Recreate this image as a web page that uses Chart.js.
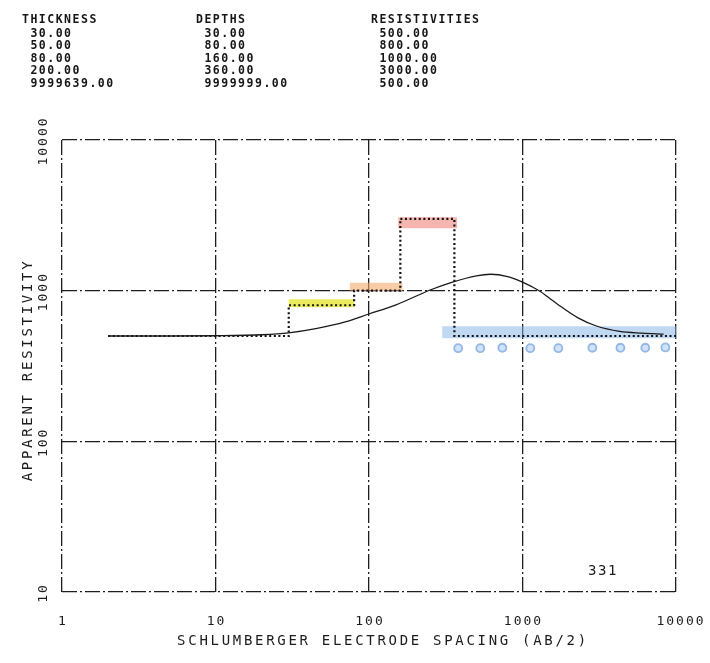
<!DOCTYPE html>
<html><head><meta charset="utf-8">
<script src="https://cdn.jsdelivr.net/npm/chart.js@4.4.1/dist/chart.umd.min.js"></script>
<style>
html,body{margin:0;padding:0;background:#fff;}
#wrap{position:relative;width:710px;height:663px;overflow:hidden;}
canvas{position:absolute;left:0;top:0;}
.hdr{position:absolute;font-family:"DejaVu Sans Mono",monospace;font-weight:bold;font-size:11.5px;letter-spacing:1.5px;color:#161616;white-space:pre;line-height:13px;height:13px;}
</style></head><body>
<div id="wrap"><canvas id="c" width="710" height="663"></canvas></div>
<script>
// ---- layer table (header) ----
const thickness = [30, 50, 80, 200, 9999639];
const depths = [30, 80, 160, 360, 9999999];
const resistivities = [500, 800, 1000, 3000, 500];

// ---- axes ----
const xTicks = [1, 10, 100, 1000, 10000];
const yTicks = [10, 100, 1000, 10000];
const modelStart = 2;
const modelEnd = 10000;

// ---- computed apparent resistivity curve ----
const curveX   = [2, 5, 10, 20, 30, 45, 70, 100, 150, 250, 350, 500, 620, 800, 1000, 1150, 1300, 1500, 1700, 2300, 3000, 4300, 6000, 8300];
const curveRho = [500, 500, 502, 510, 525, 560, 620, 700, 805, 1010, 1140, 1255, 1285, 1240, 1140, 1063, 990, 890, 810, 660, 585, 537, 523, 515];

// ---- hand-drawn highlighter marks ----
const hlStart = [30, 75, 155, 300];
const hlEnd   = [80, 165, 375, 10000];
const hlRho   = [825, 1060, 2820, 530];
const hlColor = ['rgba(228,228,40,0.75)', 'rgba(245,170,110,0.6)', 'rgba(238,120,110,0.55)', 'rgba(130,178,230,0.5)'];

// ---- hand-drawn blue circles ----
const circleX   = [381, 531, 739, 1124, 1711, 2852, 4345, 6310, 8530];
const circleRho = [415, 415, 418, 415, 415, 418, 418, 418, 420];

const plotLabel = '331';

// header text
const wrap = document.getElementById('wrap');
const cols = [
  {title: 'THICKNESS', x: 22, vals: thickness},
  {title: 'DEPTHS', x: 196, vals: depths},
  {title: 'RESISTIVITIES', x: 371, vals: resistivities}
];
const rowY = [19, 33, 45.5, 58, 70.5, 83];
cols.forEach(c => {
  const lines = [c.title].concat(c.vals.map(v => ' ' + v.toFixed(2)));
  lines.forEach((t, i) => {
    const d = document.createElement('div');
    d.className = 'hdr';
    d.textContent = t;
    d.style.left = c.x + 'px';
    d.style.top = (rowY[i] - 6.5) + 'px';
    wrap.appendChild(d);
  });
});

// step model from depths/resistivities
const stepData = [{x: modelStart, y: resistivities[0]}];
depths.slice(0, 4).forEach((d, i) => {
  stepData.push({x: d, y: resistivities[i]});
  stepData.push({x: d, y: resistivities[i + 1]});
});
stepData.push({x: modelEnd, y: resistivities[4]});

const datasets = [];
hlStart.forEach((s, i) => {
  datasets.push({
    data: [{x: s, y: hlRho[i]}, {x: hlEnd[i], y: hlRho[i]}],
    borderColor: hlColor[i], borderWidth: i === 3 ? 12 : (i === 2 ? 11 : 8),
    borderCapStyle: 'butt', pointRadius: 0, order: 10
  });
});
datasets.push({
  data: circleX.map((x, i) => ({x, y: circleRho[i]})),
  showLine: false, pointRadius: 4, pointStyle: 'circle',
  backgroundColor: 'rgba(150,192,238,0.45)', borderColor: 'rgba(110,160,220,0.7)', borderWidth: 1.8,
  order: 9
});
datasets.push({
  data: stepData, borderColor: '#111', borderWidth: 2.2, borderDash: [2, 2.6],
  pointRadius: 0, order: 2
});
datasets.push({
  data: curveX.map((x, i) => ({x, y: curveRho[i]})),
  borderColor: '#1a1a1a', borderWidth: 1.3, pointRadius: 0,
  cubicInterpolationMode: 'monotone', order: 1
});

const gridOpts = {color: '#1e1e1e', lineWidth: 1.3, drawTicks: false};
const borderOpts = {display: false, dash: [15, 3, 2, 3]};

const axisText = {
  id: 'axisText',
  afterDraw(chart) {
    const {ctx, scales: {x, y}, chartArea: a} = chart;
    ctx.save();
    ctx.fillStyle = '#1c1c1c';
    ctx.textAlign = 'center';
    ctx.textBaseline = 'middle';
    // x tick labels
    ctx.font = '13px "DejaVu Sans Mono"';
    ctx.letterSpacing = '2px';
    xTicks.forEach(v => {
      ctx.fillText(String(v), x.getPixelForValue(v) + 1 + (v === 10000 ? 4 : 0), a.bottom + 30);
    });
    // y tick labels (rotated)
    yTicks.forEach(v => {
      ctx.save();
      ctx.translate(a.left - 18, y.getPixelForValue(v) + 1);
      ctx.rotate(-Math.PI / 2);
      ctx.fillText(String(v), 0, 0);
      ctx.restore();
    });
    // axis titles
    ctx.font = '14px "DejaVu Sans Mono"';
    ctx.letterSpacing = '2.7px';
    ctx.fillText('SCHLUMBERGER ELECTRODE SPACING (AB/2)', (a.left + a.right) / 2 + 14, a.bottom + 49);
    ctx.save();
    ctx.translate(a.left - 34, (a.top + a.bottom) / 2 + 4);
    ctx.rotate(-Math.PI / 2);
    ctx.fillText('APPARENT RESISTIVITY', 0, 0);
    ctx.restore();
    // plot id label
    ctx.font = '14px "DejaVu Sans Mono"';
    ctx.letterSpacing = '1.5px';
    ctx.fillText(plotLabel, a.right - 73, a.bottom - 21);
    ctx.restore();
  }
};

new Chart(document.getElementById('c'), {
  type: 'line',
  data: {datasets},
  options: {
    responsive: false, animation: false,
    layout: {padding: {left: 62, right: 34, top: 140, bottom: 71}},
    plugins: {legend: {display: false}, tooltip: {enabled: false}},
    scales: {
      x: {
        type: 'logarithmic', min: 1, max: 10000,
        afterBuildTicks: s => { s.ticks = xTicks.map(v => ({value: v})); },
        ticks: {display: false}, grid: gridOpts, border: borderOpts
      },
      y: {
        type: 'logarithmic', min: 10, max: 10000,
        afterBuildTicks: s => { s.ticks = yTicks.map(v => ({value: v})); },
        ticks: {display: false}, grid: gridOpts, border: borderOpts
      }
    }
  },
  plugins: [axisText]
});
</script>
</body></html>
